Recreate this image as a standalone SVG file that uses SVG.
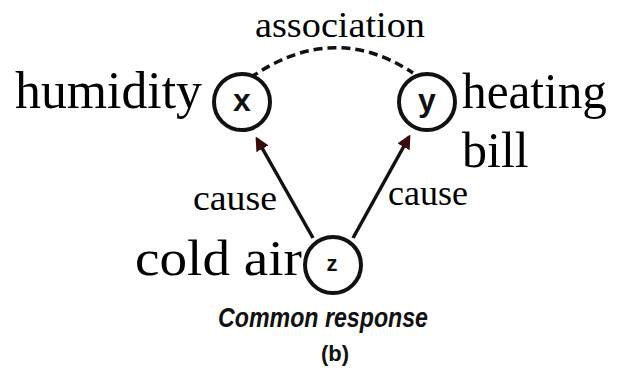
<svg xmlns="http://www.w3.org/2000/svg" width="625" height="378" viewBox="0 0 625 378">
<style>
.lbl{font-family:"Liberation Serif","Times New Roman",serif;fill:#000}
.node circle{fill:#fff;stroke:#111;stroke-width:4}
.node text{font-family:"Liberation Sans",Arial,sans-serif;font-weight:bold;font-size:32px;text-anchor:middle;fill:#111}
.node text.sm{font-size:22px}
.edge{fill:none;stroke:#111;stroke-width:3.5}
.cap{font-family:"Liberation Sans",Arial,sans-serif;font-weight:bold;font-style:italic;fill:#111}
.capb{font-family:"Liberation Sans",Arial,sans-serif;font-weight:bold;fill:#111}
</style>
<defs>
<marker id="ah" viewBox="0 0 10 10" refX="8" refY="5" markerWidth="4" markerHeight="4" orient="auto" markerUnits="strokeWidth">
<path d="M0,0 L10,5 L0,10 z" fill="#3a0a0a"/>
</marker>
</defs>
<g id="connectors">
<path class="edge" d="M313,238 L257,139" marker-end="url(#ah)"/>
<path class="edge" d="M353,238 L409,137" marker-end="url(#ah)"/>
<path class="edge" d="M250,78 Q333,20 413,73" stroke-dasharray="9,5"/>
</g>
<g id="node-x" class="node">
<circle cx="242" cy="102" r="28"/>
<text x="242" y="111">x</text>
</g>
<g id="node-y" class="node">
<circle cx="427" cy="102" r="28"/>
<text x="427" y="111">y</text>
</g>
<g id="node-z" class="node">
<circle cx="333" cy="265" r="28"/>
<text class="sm" x="332" y="271">z</text>
</g>
<g id="labels">
<text class="lbl" x="255" y="37" font-size="36" textLength="170" lengthAdjust="spacingAndGlyphs">association</text>
<text class="lbl" x="15" y="108" font-size="52" textLength="187" lengthAdjust="spacingAndGlyphs">humidity</text>
<text class="lbl" x="462" y="108" font-size="50" textLength="145" lengthAdjust="spacingAndGlyphs">heating</text>
<text class="lbl" x="462" y="167" font-size="50">bill</text>
<text class="lbl" x="193" y="210" font-size="36" textLength="84" lengthAdjust="spacingAndGlyphs">cause</text>
<text class="lbl" x="388" y="205" font-size="36" textLength="80" lengthAdjust="spacingAndGlyphs">cause</text>
<text class="lbl" x="135" y="275" font-size="50" textLength="167" lengthAdjust="spacingAndGlyphs">cold air</text>
<text class="cap" x="218" y="327" font-size="28" textLength="210" lengthAdjust="spacingAndGlyphs">Common response</text>
<text class="capb" x="335" y="361" font-size="22" text-anchor="middle">(b)</text>
</g>
</svg>
